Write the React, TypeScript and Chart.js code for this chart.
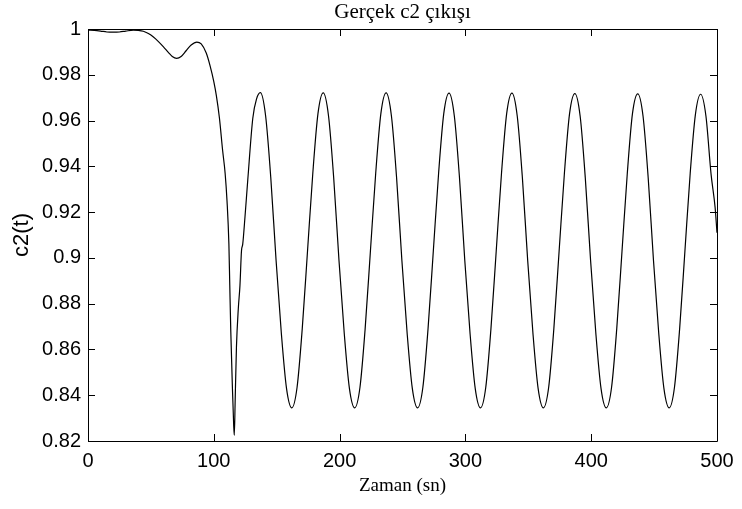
import React, { useEffect, useRef } from "react";
import { Chart, registerables } from "chart.js";

Chart.register(...registerables);

const TITLE = "Gerçek c2 çıkışı";
const X_LABEL = "Zaman (sn)";
const Y_LABEL = "c2(t)";
const X_TICKS = [0, 100, 200, 300, 400, 500];
const Y_TICKS = [0.82, 0.84, 0.86, 0.88, 0.9, 0.92, 0.94, 0.96, 0.98, 1];

// Transient part (time in s)
const earlyTime = [
  0, 5, 10, 15, 20, 25, 30, 36, 40, 44, 48, 52, 56, 60, 64, 67, 70.5, 74, 78, 82,
  86.5, 90, 94, 97, 100, 102, 104.5, 107, 109, 110.5, 112, 112.7, 113.5, 114.7, 115.8,
  116.3, 117, 118, 119.5, 120.8, 122, 123, 124.8, 127, 131, 134,
];
const earlyC2 = [
  0.9995, 0.9994, 0.9991, 0.9987, 0.9986, 0.9987, 0.9991, 0.9995, 0.9994, 0.999, 0.998,
  0.9965, 0.9945, 0.9922, 0.9897, 0.988, 0.9872, 0.988, 0.9905, 0.993, 0.9943, 0.9935,
  0.9895, 0.984, 0.977, 0.971, 0.961, 0.947, 0.937, 0.925, 0.906, 0.888, 0.868, 0.845,
  0.827, 0.8225, 0.838, 0.861, 0.878, 0.888, 0.903, 0.906, 0.918, 0.934, 0.961, 0.9695,
];

// Sustained oscillation
const oscTime = [
  137, 141.2, 145.3, 149.5, 153.7, 157.8, 162, 166.2, 170.3, 174.5, 178.7, 182.8,
  187, 191.2, 195.3, 199.5, 203.7, 207.8, 212, 216.2, 220.3, 224.5, 228.7, 232.8,
  237, 241.2, 245.3, 249.5, 253.7, 257.8, 262, 266.2, 270.3, 274.5, 278.7, 282.8,
  287, 291.2, 295.3, 299.5, 303.7, 307.8, 312, 316.2, 320.3, 324.5, 328.7, 332.8,
  337, 341.2, 345.3, 349.5, 353.7, 357.8, 362, 366.2, 370.3, 374.5, 378.7, 382.8,
  387, 391.2, 395.3, 399.5, 403.7, 407.8, 412, 416.2, 420.3, 424.5, 428.7, 432.8,
  437, 441.2, 445.3, 449.5, 453.7, 457.8, 462, 466.2, 470.3, 474.5, 478.7, 482.8,
  487, 491.2, 495.3, 498.5, 500,
];
const oscC2 = [
  0.9722, 0.962, 0.935, 0.899, 0.867, 0.843, 0.8345, 0.8435, 0.869, 0.903, 0.937, 0.963,
  0.9721, 0.962, 0.935, 0.899, 0.867, 0.843, 0.8345, 0.8435, 0.869, 0.903, 0.937, 0.963,
  0.9721, 0.962, 0.935, 0.899, 0.867, 0.843, 0.8345, 0.8435, 0.869, 0.903, 0.937, 0.963,
  0.972, 0.962, 0.935, 0.899, 0.867, 0.843, 0.8345, 0.8435, 0.869, 0.903, 0.937, 0.963,
  0.972, 0.962, 0.935, 0.899, 0.867, 0.843, 0.8345, 0.8435, 0.869, 0.903, 0.937, 0.963,
  0.9718, 0.962, 0.935, 0.899, 0.867, 0.843, 0.8345, 0.8435, 0.869, 0.903, 0.937, 0.963,
  0.9717, 0.962, 0.935, 0.899, 0.867, 0.843, 0.8345, 0.8435, 0.869, 0.903, 0.937, 0.9625,
  0.9715, 0.962, 0.9365, 0.922, 0.911,
];

const time = [...earlyTime, ...oscTime];
const c2 = [...earlyC2, ...oscC2];

const TICK_LEN = 7;

const framePlugin = {
  id: "matlabFrame",
  afterDraw(chart: any) {
    const { ctx, chartArea } = chart;
    const { left, right, top, bottom } = chartArea;
    const xs = chart.scales.x;
    const ys = chart.scales.y;
    ctx.save();
    ctx.strokeStyle = "#000";
    ctx.lineWidth = 1;
    ctx.beginPath();
    ctx.rect(Math.round(left) + 0.5, Math.round(top) + 0.5, Math.round(right - left), Math.round(bottom - top));
    ctx.stroke();
    ctx.beginPath();
    X_TICKS.forEach((v) => {
      const px = Math.round(xs.getPixelForValue(v)) + 0.5;
      ctx.moveTo(px, bottom);
      ctx.lineTo(px, bottom - TICK_LEN);
      ctx.moveTo(px, top);
      ctx.lineTo(px, top + TICK_LEN);
    });
    Y_TICKS.forEach((v) => {
      const py = Math.round(ys.getPixelForValue(v)) + 0.5;
      ctx.moveTo(left, py);
      ctx.lineTo(left + TICK_LEN, py);
      ctx.moveTo(right, py);
      ctx.lineTo(right - TICK_LEN, py);
    });
    ctx.stroke();

    ctx.fillStyle = "#000";
    ctx.textAlign = "center";
    ctx.textBaseline = "alphabetic";
    ctx.font = '21px "Liberation Serif", "Times New Roman", serif';
    ctx.fillText(TITLE, (left + right) / 2, 18);
    ctx.font = '19px "Liberation Serif", "Times New Roman", serif';
    ctx.fillText(X_LABEL, (left + right) / 2, 491);

    ctx.translate(22, (top + bottom) / 2);
    ctx.rotate(-Math.PI / 2);
    ctx.textBaseline = "middle";
    ctx.font = '22px "Liberation Sans", Arial, sans-serif';
    ctx.fillText(Y_LABEL, 0, 0);
    ctx.restore();
  },
};

const fmt = (v: any) => String(parseFloat(Number(v).toFixed(2)));

export default function App() {
  const ref = useRef<HTMLCanvasElement>(null);
  useEffect(() => {
    document.body.style.margin = "0";
    const canvas = ref.current!;
    const chart = new Chart(canvas, {
      type: "line",
      data: {
        datasets: [
          {
            data: time.map((t, i) => ({ x: t, y: c2[i] })),
            borderColor: "#000",
            borderWidth: 1.2,
            pointRadius: 0,
            cubicInterpolationMode: "monotone",
            fill: false,
          },
        ],
      },
      options: {
        responsive: false,
        animation: false,
        devicePixelRatio: 1,
        layout: { padding: { top: 29, right: 25, left: 0, bottom: 0 } },
        plugins: {
          legend: { display: false },
          tooltip: { enabled: false },
          title: { display: false },
        },
        scales: {
          x: {
            type: "linear",
            min: 0,
            max: 500,
            afterBuildTicks: (s: any) => {
              s.ticks = X_TICKS.map((v) => ({ value: v }));
            },
            afterFit: (s: any) => {
              s.height = 68;
            },
            grid: { display: false, drawTicks: false },
            border: { display: false },
            ticks: {
              padding: 8,
              color: "#000",
              maxRotation: 0,
              font: { family: '"Liberation Sans", Arial, sans-serif', size: 20 },
              callback: (v: any) => fmt(v),
            },
          },
          y: {
            type: "linear",
            min: 0.82,
            max: 1,
            afterBuildTicks: (s: any) => {
              s.ticks = Y_TICKS.map((v) => ({ value: v }));
            },
            afterFit: (s: any) => {
              s.width = 88;
            },
            grid: { display: false, drawTicks: false },
            border: { display: false },
            ticks: {
              padding: 7,
              color: "#000",
              font: { family: '"Liberation Sans", Arial, sans-serif', size: 20 },
              callback: (v: any) => fmt(v),
            },
          },
        },
      } as any,
      plugins: [framePlugin],
    });
    return () => chart.destroy();
  }, []);
  return (
    <div style={{ position: "fixed", left: 0, top: 0, width: 742, height: 509, background: "#fff" }}>
      <canvas ref={ref} width={742} height={509} style={{ display: "block", width: 742, height: 509 }} />
    </div>
  );
}
